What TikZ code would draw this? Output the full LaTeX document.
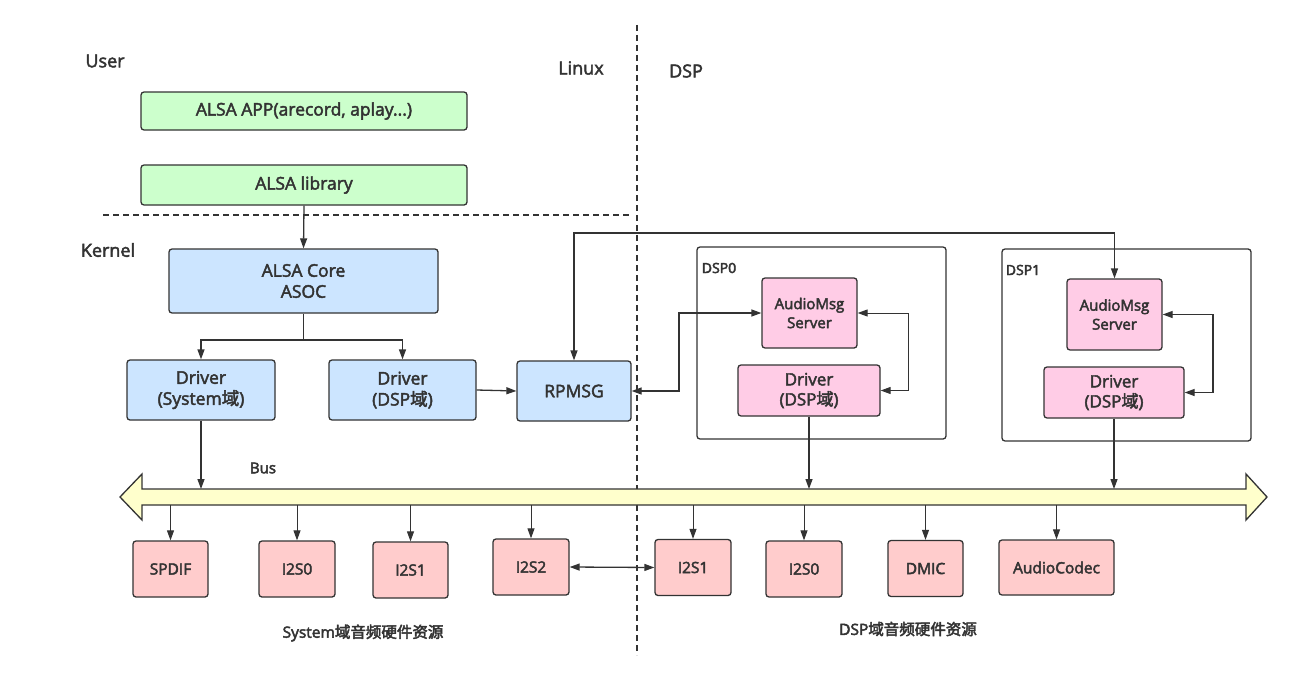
\documentclass[tikz,border=0pt]{standalone}
\usepackage{fontspec}
\setmainfont{Open Sans}
\newfontfamily\med{Open Sans}
\newfontfamily\cjk{Noto Sans CJK SC}
\usetikzlibrary{arrows.meta}
\definecolor{lnc}{HTML}{333333}
\definecolor{grn}{HTML}{CCFFCC}
\definecolor{blu}{HTML}{CCE5FF}
\definecolor{pnk}{HTML}{FFCCE6}
\definecolor{red}{HTML}{FFCCCC}
\definecolor{yel}{HTML}{FFFFCC}
\tikzset{
  thick text/.style={execute at begin node={\special{pdf:literal direct 2 Tr 0.45 w}},
                     execute at end node={\special{pdf:literal direct 0 Tr}}},
  box/.style={draw=lnc, line width=1.3pt, rounded corners=3pt, align=center, text=lnc, font=\med\fontsize{17.5}{21}\selectfont, inner sep=0pt, thick text},
  gbox/.style={box, fill=grn},
  bbox/.style={box, fill=blu},
  pbox/.style={box, fill=pnk},
  rbox/.style={box, fill=red, minimum height=56pt, font=\med\fontsize{15.5}{18}\selectfont},
  frame/.style={draw=lnc, line width=1.3pt, rounded corners=3pt, fill=white},
  lbl/.style={text=lnc, font=\med\fontsize{18}{21}\selectfont, inner sep=0pt, thick text},
  slbl/.style={text=lnc, font=\med\fontsize{14}{17}\selectfont, inner sep=0pt, thick text},
  arr/.style={draw=lnc, line width=1.3pt, -{Triangle[length=10pt,width=7pt]}},
  tarr/.style={draw=lnc, line width=1pt, -{Triangle[length=10pt,width=7pt]}},
  barr/.style={draw=lnc, line width=1.3pt, {Triangle[length=10pt,width=7pt]}-{Triangle[length=10pt,width=7pt]}},
  sep/.style={draw=lnc, line width=1.2pt, dash pattern=on 6pt off 4pt},
}
\begin{document}
\begin{tikzpicture}[x=1pt,y=-1pt]
\useasboundingbox[fill=white] (0,0) rectangle (1292,677);

% separators
\draw[sep] (637,25) -- (637,655);
\draw[sep] (103,215) -- (630,215);

% region labels
\node[lbl] (user) at (105,61) {User};
\node[lbl] (linux) at (581,68) {Linux};
\node[lbl] (dsp) at (686,71) {DSP};
\node[lbl] (kernel) at (108,250) {Kernel};

% user space
\node[gbox, minimum width=326pt, minimum height=38pt] (app) at (304,111) {ALSA APP(arecord, aplay...)};
\node[gbox, minimum width=326pt, minimum height=40pt] (lib) at (304,185) {ALSA library};

% kernel
\node[bbox, minimum width=269pt, minimum height=64pt] (core) at (303.5,281) {ALSA Core\\ASOC};
\node[bbox, minimum width=148pt, minimum height=60pt] (drvsys) at (201,390) {Driver\\(System{\cjk 域})};
\node[bbox, minimum width=147pt, minimum height=60pt] (drvdsp) at (402.5,390) {Driver\\(DSP{\cjk 域})};
\node[bbox, minimum width=114pt, minimum height=60pt] (rpmsg) at (574,391) {RPMSG};

% DSP frames
\node[frame, minimum width=249pt, minimum height=192pt] (dsp0) at (821.5,343) {};
\node[frame, minimum width=249pt, minimum height=192pt] (dsp1) at (1126.5,345) {};
\node[slbl] (dsp0l) at (719,268) {DSP0};
\node[slbl] (dsp1l) at (1023,270) {DSP1};

\node[pbox, minimum width=95pt, minimum height=70pt, font=\med\fontsize{15}{19}\selectfont] (ams0) at (809.5,313) {AudioMsg\\Server};
\node[pbox, minimum width=142pt, minimum height=51pt, font=\med\fontsize{17}{20}\selectfont] (drv0) at (809,390.5) {Driver\\(DSP{\cjk 域})};
\node[pbox, minimum width=95pt, minimum height=71pt, font=\med\fontsize{15}{19}\selectfont] (ams1) at (1114.5,314.5) {AudioMsg\\Server};
\node[pbox, minimum width=140pt, minimum height=51pt, font=\med\fontsize{17}{20}\selectfont] (drv1) at (1114,392.5) {Driver\\(DSP{\cjk 域})};

% bus
\draw[draw=lnc, line width=1.3pt, fill=yel, line join=miter]
  (120,497) -- (142,474) -- (142,489) -- (1246,489) -- (1246,474) -- (1267,497)
  -- (1246,520) -- (1246,505) -- (142,505) -- (142,520) -- cycle;
\coordinate (bustop) at (0,489);
\coordinate (busbot) at (0,505);
\node[slbl, font=\med\fontsize{15}{18}\selectfont] (bus) at (263,468) {Bus};

% bottom hardware boxes
\node[rbox, minimum width=75pt] (spdif) at (170.5,569) {SPDIF};
\node[rbox, minimum width=76pt] (i2s0a) at (297,569) {I2S0};
\node[rbox, minimum width=75pt] (i2s1a) at (410.5,570) {I2S1};
\node[rbox, minimum width=76pt] (i2s2) at (531,567) {I2S2};
\node[rbox, minimum width=76pt] (i2s1b) at (693,567.5) {I2S1};
\node[rbox, minimum width=76pt] (i2s0b) at (804,569) {I2S0};
\node[rbox, minimum width=75pt] (dmic) at (925.5,568.5) {DMIC};
\node[rbox, minimum width=115pt, minimum height=55pt] (codec) at (1056.5,567.5) {AudioCodec};

\node[text=lnc, font=\med\fontsize{15.5}{18}\selectfont, inner sep=0pt, thick text] (syslbl) at (363,633) {System{\cjk 域音频硬件资源}};
\node[text=lnc, font=\med\fontsize{15.5}{18}\selectfont, inner sep=0pt, thick text] (dsplbl) at (908,629) {DSP{\cjk 域音频硬件资源}};

% connectors
\draw[arr] (lib.south) -- (core.north);
\coordinate (split) at (303.5,340);
\draw[draw=lnc, line width=1.3pt] (core.south) -- (split);
\draw[arr] (split) -| (drvsys.north);
\draw[arr] (split) -| (drvdsp.north);
\draw[arr] (drvdsp.east) -- (rpmsg.west);
\coordinate (toprail) at (0,233);
\draw[barr] (rpmsg.north) -- (rpmsg.north |- toprail) -- (ams1.north |- toprail) -- (ams1.north);
\coordinate (j0) at (679,0);
\draw[barr] (rpmsg.east) -- (j0 |- rpmsg.east) |- (ams0.west);
\coordinate (j1) at (908,0);
\draw[barr, line width=1pt] (ams0.east) -- (j1 |- ams0.east) |- (drv0.east);
\coordinate (j2) at (1213,0);
\draw[barr] (ams1.east) -- (j2 |- ams1.east) |- (drv1.east);

\draw[arr] (drvsys.south) -- (drvsys.south |- bustop);
\draw[arr] (drv0.south) -- (drv0.south |- bustop);
\draw[arr] (drv1.south) -- (drv1.south |- bustop);

\foreach \n in {spdif,i2s0a,i2s1a,i2s2,i2s1b,i2s0b,dmic,codec}
  \draw[tarr] (busbot -| \n.north) -- (\n.north);

\draw[barr] (i2s2.east) -- (i2s1b.west);
\end{tikzpicture}
\end{document}
